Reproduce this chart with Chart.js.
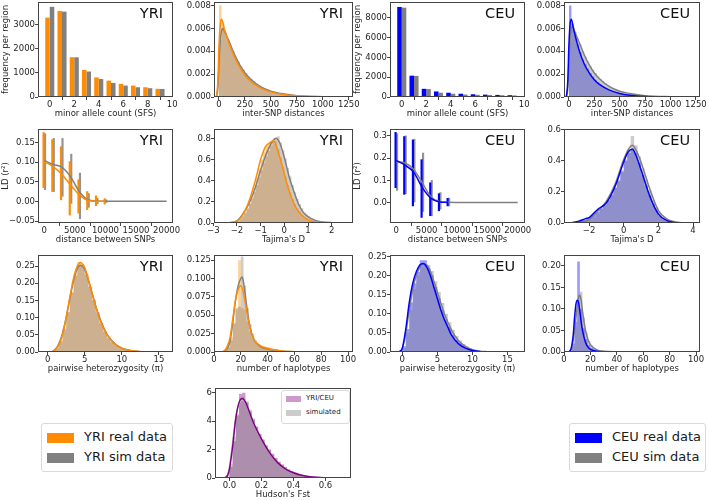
<!DOCTYPE html>
<html>
<head>
<meta charset="utf-8">
<script src="https://cdn.jsdelivr.net/npm/chart.js@4.4.1/dist/chart.umd.min.js"></script>
<style>
  body { margin: 0; background: #fff; }
  #fig { position: relative; width: 709px; height: 500px; overflow: hidden; font-family: 'DejaVu Sans', sans-serif; color: #1a1a1a; }
  #fig canvas { position: absolute; }
  .leg { position: absolute; background: #fff; border: 1px solid #d9d9d9; border-radius: 3px; }
  .leg span { position: absolute; white-space: nowrap; }
  .leg i { position: absolute; display: block; }
</style>
</head>
<body>
<div id="fig">
  <div class="leg" style="left:41px; top:423px; width:130px; height:47px; font-size:13px;">
    <i style="left:5px; top:9px; width:27px; height:10px; background:#ff8c00;"></i>
    <span style="left:42px; top:5px;">YRI real data</span>
    <i style="left:5px; top:29px; width:27px; height:10px; background:#808080;"></i>
    <span style="left:42px; top:25px;">YRI sim data</span>
  </div>
  <div class="leg" style="left:569px; top:423px; width:135px; height:47px; font-size:13px;">
    <i style="left:5px; top:9px; width:27px; height:10px; background:#0000ff;"></i>
    <span style="left:42px; top:5px;">CEU real data</span>
    <i style="left:5px; top:29px; width:27px; height:10px; background:#808080;"></i>
    <span style="left:42px; top:25px;">CEU sim data</span>
  </div>
  <div class="leg" style="left:281px; top:390px; width:67px; height:32px; font-size:7px; z-index:2;">
    <i style="left:4px; top:5px; width:15px; height:6px; background:rgba(128,0,128,0.4);"></i>
    <span style="left:24px; top:3px;">YRI/CEU</span>
    <i style="left:4px; top:19px; width:15px; height:6px; background:rgba(128,128,128,0.4);"></i>
    <span style="left:24px; top:17px;">simulated</span>
  </div>
</div>
<script>
// ---- site frequency spectrum (counts per region)
const sfsCount = [0, 1, 2, 3, 4, 5, 6, 7, 8, 9];
const yriSfsReal = [3300, 3580, 1655, 1125, 815, 680, 545, 475, 405, 340];
const yriSfsSim = [3750, 3550, 1650, 1060, 745, 585, 475, 405, 365, 335];
const ceuSfsReal = [9080, 2150, 825, 560, 430, 330, 275, 240, 210, 180];
const ceuSfsSim = [9010, 2130, 800, 430, 330, 250, 220, 200, 180, 160];

// ---- inter-SNP distances, histogram bins of 25 from 0
const gapStart = 0, gapWidth = 25;
const yriGapReal = [0.0080, 0.0066, 0.0057, 0.0050, 0.0044, 0.0038, 0.0033, 0.0029, 0.0025, 0.0022, 0.0019, 0.0016, 0.0014, 0.0012, 0.0010, 0.00088, 0.00076, 0.00065, 0.00055, 0.00047, 0.00040, 0.00034, 0.00029, 0.00024, 0.00020, 0.00017, 0.00014, 0.00012, 0.00010, 0.00008, 0.00007, 0.00006, 0.00005, 0.00004, 0.00003, 0.00003, 0.00002, 0.00002, 0.00002, 0.00001, 0.00001];
const yriGapSim = [0.0050, 0.0060, 0.0056, 0.0050, 0.0045, 0.0040, 0.0035, 0.0031, 0.0027, 0.0024, 0.0021, 0.0018, 0.0016, 0.0014, 0.0012, 0.0010, 0.00088, 0.00077, 0.00067, 0.00058, 0.00050, 0.00043, 0.00037, 0.00032, 0.00027, 0.00023, 0.00020, 0.00017, 0.00014, 0.00012, 0.00010, 0.00008, 0.00007, 0.00006, 0.00005, 0.00004, 0.00003, 0.00003, 0.00002, 0.00002, 0.00001];
const ceuGapReal = [0.0080, 0.0064, 0.0054, 0.0046, 0.0039, 0.0033, 0.0029, 0.0025, 0.0021, 0.0018, 0.0015, 0.0013, 0.0011, 0.00095, 0.0008, 0.00068, 0.00058, 0.0005, 0.00042, 0.00036, 0.0003, 0.00025, 0.00021, 0.00018, 0.00015, 0.00012, 0.0001, 0.00008, 0.00007, 0.00006, 0.00005, 0.00004, 0.00003, 0.00003, 0.00002, 0.00002, 0.00001, 0.00001, 0.00001, 0.00001, 0.00001];
const ceuGapSim = [0.0048, 0.0062, 0.0057, 0.0051, 0.0046, 0.0040, 0.0035, 0.0031, 0.0027, 0.0024, 0.0021, 0.0018, 0.0016, 0.0014, 0.0012, 0.0010, 0.00088, 0.00077, 0.00067, 0.00058, 0.0005, 0.00043, 0.00037, 0.00032, 0.00027, 0.00023, 0.0002, 0.00017, 0.00014, 0.00012, 0.0001, 0.00008, 0.00007, 0.00006, 0.00005, 0.00004, 0.00003, 0.00003, 0.00002, 0.00002, 0.00001];
const gapKdeX = [-25, -10, 0, 15, 25, 40, 50, 100, 150, 200, 250, 300, 400, 500, 600, 750, 1000, 1250];
const yriGapKdeReal = [0, 0.0015, 0.0045, 0.0065, 0.0068, 0.0064, 0.0060, 0.0046, 0.0035, 0.0026, 0.0019, 0.0014, 0.0008, 0.00045, 0.00025, 0.0001, 0.00002, 0];
const yriGapKdeSim = [0, 0.0008, 0.0030, 0.0052, 0.0058, 0.0060, 0.0058, 0.0048, 0.0037, 0.0028, 0.0021, 0.0016, 0.0009, 0.0005, 0.0003, 0.00012, 0.00003, 0];
const ceuGapKdeReal = [0, 0.0015, 0.0045, 0.0066, 0.0068, 0.0062, 0.0058, 0.0041, 0.0029, 0.0021, 0.0015, 0.0011, 0.0006, 0.0003, 0.00015, 0.00005, 0.00001, 0];
const ceuGapKdeSim = [0, 0.0008, 0.0030, 0.0054, 0.0060, 0.0062, 0.0059, 0.0048, 0.0037, 0.0028, 0.0021, 0.0016, 0.0009, 0.0005, 0.0003, 0.00012, 0.00003, 0];

// ---- LD decay (mean r^2 and spread per distance bin)
const ldDist = [0, 1429, 2857, 4286, 5714, 7143, 8571, 10000];
const ldDistSim = [0, 1429, 2857, 4286, 5714, 7143, 8571, 10000, 11429, 12857, 14286, 15714, 17143, 18571, 20000];
const yriLdReal = [0.101, 0.0885, 0.069, 0.042, 0.017, 0.002, 0.0005, 0.0002];
const yriLdSim = [0.104, 0.094, 0.087, 0.063, 0.025, 0.004, 0.001, 0.0003, 0.0002, 0.0001, 0.0001, 0, 0, 0, 0];
const yriLdRealLo = [0.035, 0.025, 0.004, -0.035, -0.030, -0.021, -0.011, -0.007];
const yriLdRealHi = [0.175, 0.157, 0.139, 0.101, 0.055, 0.025, 0.014, 0.007];
const yriLdSimLo = [0.030, 0.025, 0.013, -0.005, -0.044, -0.015, -0.006, -0.003];
const yriLdSimHi = [0.172, 0.160, 0.160, 0.120, 0.072, 0.020, 0.008, 0.004];
const ceuLdDist = [0, 1429, 2857, 4286, 5714, 7143, 8571];
const ceuLdReal = [0.19, 0.168, 0.137, 0.067, 0.019, 0.003, 0.0005];
const ceuLdSim = [0.183, 0.178, 0.149, 0.089, 0.025, 0.004, 0.001, 0.0003, 0, 0, 0, 0, 0, 0, 0];
const ceuLdRealLo = [0.067, 0.037, -0.015, -0.067, -0.059, -0.037, -0.015];
const ceuLdRealHi = [0.316, 0.297, 0.282, 0.193, 0.089, 0.040, 0.019];
const ceuLdSimLo = [0.055, 0.040, 0.000, -0.040, -0.060, -0.030, -0.015];
const ceuLdSimHi = [0.310, 0.300, 0.285, 0.223, 0.100, 0.045, 0.020];

// ---- Tajima's D
const yriTajStart = -2.2, yriTajWidth = 0.1;
const yriTajReal = [0.005, 0.01, 0.02, 0.035, 0.06, 0.09, 0.13, 0.19, 0.25, 0.33, 0.42, 0.51, 0.60, 0.67, 0.73, 0.75, 0.76, 0.78, 0.77, 0.70, 0.62, 0.53, 0.44, 0.36, 0.29, 0.23, 0.18, 0.14, 0.11, 0.08, 0.06, 0.045, 0.033, 0.024, 0.017, 0.012, 0.008, 0.005, 0.003, 0.002];
const yriTajSim = [0.005, 0.01, 0.02, 0.04, 0.07, 0.1, 0.14, 0.18, 0.23, 0.29, 0.36, 0.43, 0.5, 0.57, 0.63, 0.68, 0.73, 0.77, 0.8, 0.82, 0.76, 0.69, 0.61, 0.52, 0.44, 0.36, 0.29, 0.23, 0.18, 0.14, 0.1, 0.08, 0.06, 0.045, 0.034, 0.025, 0.018, 0.013, 0.009, 0.006, 0.004, 0.003, 0.002, 0.001];
const yriTajKdeRealX = [-2.3, -2.0, -1.8, -1.5, -1.25, -1.0, -0.8, -0.6, -0.45, -0.3, -0.1, 0.1, 0.3, 0.5, 0.75, 1.0, 1.3, 1.6, 2.0];
const yriTajKdeReal = [0, 0.02, 0.06, 0.2, 0.38, 0.6, 0.72, 0.76, 0.78, 0.7, 0.55, 0.38, 0.24, 0.14, 0.07, 0.03, 0.01, 0.003, 0];
const yriTajKdeSimX = [-2.4, -2.0, -1.8, -1.5, -1.25, -1.0, -0.75, -0.5, -0.35, -0.2, 0, 0.2, 0.4, 0.6, 0.8, 1.0, 1.3, 1.6, 2.0, 2.5];
const yriTajKdeSim = [0, 0.02, 0.07, 0.18, 0.32, 0.5, 0.66, 0.77, 0.8, 0.76, 0.62, 0.44, 0.3, 0.18, 0.1, 0.06, 0.025, 0.01, 0.003, 0];
const ceuTajStart = -3.0, ceuTajWidth = 0.2;
const ceuTajReal = [0.002, 0.006, 0.012, 0.02, 0.03, 0.038, 0.05, 0.07, 0.095, 0.115, 0.145, 0.18, 0.225, 0.27, 0.33, 0.4, 0.45, 0.48, 0.45, 0.39, 0.31, 0.24, 0.18, 0.12, 0.08, 0.045, 0.025, 0.013, 0.006, 0.003, 0.001];
const ceuTajSim = [0.001, 0.002, 0.004, 0.007, 0.012, 0.02, 0.035, 0.06, 0.09, 0.12, 0.15, 0.19, 0.23, 0.28, 0.34, 0.41, 0.47, 0.56, 0.5, 0.43, 0.35, 0.28, 0.21, 0.15, 0.1, 0.065, 0.04, 0.024, 0.013, 0.007, 0.003, 0.001];
const ceuTajKdeRealX = [-3.0, -2.6, -2.2, -2.0, -1.5, -1.0, -0.5, 0, 0.25, 0.5, 0.7, 1.0, 1.5, 2.0, 2.5, 3.0];
const ceuTajKdeReal = [0.002, 0.012, 0.028, 0.035, 0.088, 0.13, 0.236, 0.394, 0.457, 0.474, 0.436, 0.341, 0.173, 0.057, 0.015, 0.002];
const ceuTajKdeSimX = [-3.0, -2.5, -2.0, -1.5, -1.0, -0.5, 0, 0.3, 0.5, 0.7, 1.0, 1.5, 2.0, 2.5, 3.0, 3.5];
const ceuTajKdeSim = [0.001, 0.006, 0.02, 0.075, 0.14, 0.25, 0.41, 0.48, 0.5, 0.47, 0.39, 0.22, 0.08, 0.025, 0.006, 0.001];

// ---- pairwise heterozygosity (pi)
const yriPiStart = 0, yriPiWidth = 0.5;
const yriPiReal = [0, 0.002, 0.01, 0.03, 0.065, 0.115, 0.175, 0.228, 0.262, 0.255, 0.228, 0.19, 0.15, 0.113, 0.082, 0.058, 0.04, 0.028, 0.019, 0.013, 0.009, 0.006, 0.004, 0.002, 0.001, 0.001];
const yriPiSim = [0, 0.003, 0.012, 0.033, 0.068, 0.117, 0.172, 0.222, 0.252, 0.25, 0.225, 0.19, 0.152, 0.116, 0.085, 0.06, 0.042, 0.029, 0.02, 0.013, 0.008, 0.005, 0.003, 0.002, 0.001, 0.001];
const yriPiKdeX = [0.5, 1, 1.5, 2, 2.5, 3, 3.5, 4, 4.4, 5, 5.5, 6, 6.5, 7, 7.5, 8, 9, 10, 11, 12, 13];
const yriPiKdeReal = [0, 0.006, 0.02, 0.05, 0.1, 0.16, 0.215, 0.25, 0.26, 0.245, 0.21, 0.17, 0.13, 0.097, 0.07, 0.05, 0.024, 0.011, 0.005, 0.002, 0];
const yriPiKdeSim = [0, 0.007, 0.023, 0.054, 0.1, 0.156, 0.208, 0.242, 0.252, 0.24, 0.208, 0.17, 0.132, 0.1, 0.073, 0.052, 0.025, 0.011, 0.005, 0.002, 0];
const ceuPiStart = -0.5, ceuPiWidth = 0.5;
const ceuPiReal = [0.002, 0.015, 0.06, 0.13, 0.18, 0.21, 0.24, 0.24, 0.22, 0.2, 0.17, 0.14, 0.11, 0.085, 0.065, 0.045, 0.032, 0.022, 0.015, 0.01, 0.007, 0.004, 0.002, 0.001];
const ceuPiSim = [0.001, 0.01, 0.05, 0.11, 0.165, 0.2, 0.222, 0.232, 0.228, 0.212, 0.185, 0.157, 0.128, 0.1, 0.078, 0.058, 0.042, 0.03, 0.021, 0.014, 0.009, 0.006, 0.004, 0.002, 0.001, 0.001];
const ceuPiKdeX = [-0.5, 0, 0.5, 1, 1.5, 2, 2.5, 3, 3.5, 4, 4.5, 5, 5.5, 6, 6.5, 7, 8, 9, 10, 11, 12];
const ceuPiKdeReal = [0, 0.01, 0.06, 0.13, 0.18, 0.21, 0.228, 0.232, 0.222, 0.2, 0.17, 0.14, 0.11, 0.085, 0.065, 0.045, 0.022, 0.01, 0.004, 0.001, 0];
const ceuPiKdeSim = [0, 0.008, 0.05, 0.11, 0.165, 0.2, 0.222, 0.23, 0.228, 0.212, 0.185, 0.157, 0.128, 0.1, 0.078, 0.058, 0.03, 0.015, 0.006, 0.002, 0.001];

// ---- number of haplotypes
const yriHapStart = 6, yriHapWidth = 2;
const yriHapReal = [0.001, 0.003, 0.008, 0.02, 0.04, 0.058, 0.125, 0.06, 0.058, 0.042, 0.028, 0.019, 0.014, 0.011, 0.009, 0.008, 0.007, 0.006, 0.004, 0.003, 0.003, 0.002, 0.0015, 0.001, 0.0007, 0.0005];
const yriHapSim = [0.001, 0.002, 0.006, 0.016, 0.038, 0.06, 0.062, 0.13, 0.09, 0.06, 0.038, 0.025, 0.016, 0.011, 0.008, 0.006, 0.005, 0.004, 0.003, 0.002, 0.0015, 0.001, 0.0008, 0.0006, 0.0004, 0.0003];
const yriHapKdeRealX = [6, 8, 10, 12, 14, 16, 18, 20, 22, 24, 26, 28, 30, 35, 40, 45, 50, 60, 80];
const yriHapKdeReal = [0, 0.002, 0.008, 0.02, 0.045, 0.07, 0.085, 0.09, 0.08, 0.06, 0.04, 0.025, 0.016, 0.008, 0.005, 0.003, 0.0015, 0.0005, 0];
const yriHapKdeSimX = [6, 10, 12, 14, 16, 18, 20, 21, 22, 24, 26, 28, 30, 35, 40, 50, 60, 80, 90];
const yriHapKdeSim = [0, 0.005, 0.015, 0.04, 0.07, 0.09, 0.1, 0.102, 0.095, 0.068, 0.042, 0.026, 0.016, 0.007, 0.004, 0.0015, 0.0005, 0.0001, 0];
const ceuHapStart = 2, ceuHapWidth = 2;
const ceuHapReal = [0, 0.003, 0.02, 0.07, 0.21, 0.1, 0.055, 0.03, 0.016, 0.009, 0.006, 0.004, 0.003, 0.002, 0.0015, 0.001, 0.0007, 0.0005];
const ceuHapSim = [0, 0.002, 0.012, 0.06, 0.105, 0.14, 0.08, 0.045, 0.025, 0.015, 0.009, 0.006, 0.004, 0.003, 0.002, 0.0015, 0.001, 0.0008, 0.0005, 0.0003];
const ceuHapKdeRealX = [3, 5, 7, 8, 9, 10, 11, 12, 13, 14, 16, 18, 20, 25, 30, 40];
const ceuHapKdeReal = [0, 0.005, 0.04, 0.08, 0.11, 0.12, 0.115, 0.095, 0.07, 0.05, 0.025, 0.012, 0.006, 0.002, 0.0005, 0];
const ceuHapKdeSimX = [4, 6, 8, 10, 11, 12, 13, 14, 16, 18, 20, 25, 30, 40, 50, 75];
const ceuHapKdeSim = [0, 0.01, 0.05, 0.105, 0.125, 0.132, 0.12, 0.095, 0.055, 0.03, 0.017, 0.005, 0.002, 0.0005, 0.0002, 0];

// ---- Hudson's Fst, YRI vs CEU
const fstStart = -0.02, fstWidth = 0.02;
const fstReal = [0.05, 0.8, 2.6, 4.4, 5.9, 6.0, 5.3, 4.7, 4.1, 3.6, 3.1, 2.7, 2.3, 2.0, 1.7, 1.4, 1.15, 0.95, 0.75, 0.6, 0.48, 0.38, 0.29, 0.22, 0.16, 0.12, 0.09, 0.06, 0.045, 0.03, 0.02, 0.015, 0.01, 0.007, 0.005, 0.003];
const fstSim = [0.1, 1.0, 2.9, 4.5, 5.6, 5.7, 5.4, 4.8, 4.2, 3.6, 3.1, 2.65, 2.25, 1.95, 1.65, 1.38, 1.15, 0.95, 0.78, 0.62, 0.5, 0.39, 0.3, 0.23, 0.17, 0.13, 0.09, 0.07, 0.05, 0.035, 0.025, 0.017, 0.011, 0.007, 0.004, 0.002];
const fstKdeX = [-0.03, -0.01, 0, 0.02, 0.04, 0.06, 0.08, 0.1, 0.12, 0.15, 0.2, 0.25, 0.3, 0.35, 0.4, 0.45, 0.5, 0.6, 0.7];
const fstKdeReal = [0, 0.2, 0.6, 2.2, 4.2, 5.3, 5.6, 5.35, 4.8, 3.9, 2.75, 1.8, 1.1, 0.65, 0.37, 0.19, 0.09, 0.02, 0];
const fstKdeSim = [0, 0.3, 0.8, 2.5, 4.3, 5.2, 5.5, 5.3, 4.8, 3.9, 2.75, 1.82, 1.12, 0.67, 0.38, 0.2, 0.1, 0.02, 0];

// ---- tick positions
const sfsXTicks = [0, 2, 4, 6, 8, 10];
const yriSfsYTicks = [0, 1000, 2000, 3000];
const ceuSfsYTicks = [0, 2000, 4000, 6000, 8000];
const gapXTicks = [0, 250, 500, 750, 1000, 1250];
const gapYTicks = [0, 0.002, 0.004, 0.006, 0.008];
const ldXTicks = [0, 5000, 10000, 15000, 20000];
const yriLdYTicks = [-0.05, 0, 0.05, 0.1, 0.15];
const ceuLdYTicks = [0, 0.1, 0.2, 0.3];
const yriTajXTicks = [-3, -2, -1, 0, 1, 2];
const yriTajYTicks = [0, 0.2, 0.4, 0.6, 0.8];
const ceuTajXTicks = [-2, 0, 2, 4];
const ceuTajYTicks = [0, 0.2, 0.4, 0.6];
const piXTicks = [0, 5, 10, 15];
const piYTicks = [0, 0.05, 0.1, 0.15, 0.2, 0.25];
const hapXTicks = [0, 20, 40, 60, 80, 100];
const yriHapYTicks = [0, 0.025, 0.05, 0.075, 0.1, 0.125];
const ceuHapYTicks = [0, 0.05, 0.1, 0.15, 0.2];
const fstXTicks = [0, 0.2, 0.4, 0.6];
const fstYTicks = [0, 2, 4, 6];

const ORANGE = '#ff8c00', GREY = '#808080', BLUE = '#0000ff', PURPLE = '#800080';
const ORANGE_A = 'rgba(255,140,0,0.4)', GREY_A = 'rgba(128,128,128,0.4)', BLUE_A = 'rgba(0,0,255,0.4)', PURPLE_A = 'rgba(128,0,128,0.4)';
const FAM = "'DejaVu Sans', sans-serif";
const FONT = {family: FAM, size: 8.5};
const INK = '#262626', SPINE = '#444';
const YW = 38, PT = 6, PR = 14, XH = 22;
const fig = document.getElementById('fig');

function fmt(v, d) { return v.toFixed(d).replace('-', '\u2212'); }
function pts(xs, ys) { return xs.map((x, i) => ({x: x, y: ys[i]})); }
function hist(start, width, vals) {
  const p = vals.map((v, i) => ({x: start + i * width, y: v}));
  p.push({x: start + vals.length * width, y: 0});
  return p;
}
function spread(xs, lo, hi) { return xs.map((x, i) => ({x: x, y: [lo[i], hi[i]]})); }

function kde(data, color) {
  return {data: data, borderColor: color, borderWidth: 1.5, pointRadius: 0, fill: false, cubicInterpolationMode: 'monotone', order: 0};
}
function histSet(data, color, order) {
  return {data: data, stepped: true, fill: 'origin', backgroundColor: color, borderColor: 'rgba(0,0,0,0)', borderWidth: 0, pointRadius: 0, order: order};
}
function errSet(data, color) {
  return {type: 'bar', data: data, backgroundColor: color, barThickness: 1.5, order: 1};
}
function sfsSet(data, color) {
  return {type: 'bar', data: data, backgroundColor: color, categoryPercentage: 0.74, barPercentage: 1};
}

const frame = {
  id: 'frame',
  afterDraw(chart, args, opts) {
    const a = chart.chartArea, ctx = chart.ctx;
    ctx.save();
    ctx.strokeStyle = SPINE;
    ctx.lineWidth = 1;
    ctx.strokeRect(Math.round(a.left) + 0.5, Math.round(a.top) + 0.5, Math.round(a.right - a.left) - 1, Math.round(a.bottom - a.top) - 1);
    if (opts.tag) {
      ctx.fillStyle = '#111';
      ctx.font = "14.5px " + FAM;
      ctx.textAlign = 'right';
      ctx.textBaseline = 'alphabetic';
      ctx.fillText(opts.tag, a.right - 10, a.top + 16);
    }
    ctx.restore();
  }
};

function axis(ax, isX) {
  return {
    type: 'linear', min: ax.min, max: ax.max, offset: false,
    afterBuildTicks: s => { s.ticks = ax.ticks.map(v => ({value: v})); },
    afterFit: s => {
      if (isX) { s.height = XH; s.paddingLeft = 0; s.paddingRight = 0; }
      else { s.width = YW; s.paddingTop = 0; s.paddingBottom = 0; }
    },
    grid: {drawOnChartArea: false, drawTicks: true, tickLength: 3, color: SPINE},
    border: {display: false},
    ticks: {font: FONT, color: INK, padding: 0, maxRotation: 0, autoSkip: false, callback: v => fmt(v, ax.dec)},
    title: {display: !!ax.title, text: ax.title || '', font: FONT, color: INK, padding: {top: 1, bottom: 0}}
  };
}

function panel(box, tag, xa, ya, datasets) {
  const [l, t, r, b] = box;
  const cv = document.createElement('canvas');
  cv.width = r - l + YW + PR;
  cv.height = b - t + PT + XH;
  cv.style.left = (l - YW) + 'px';
  cv.style.top = (t - PT) + 'px';
  fig.appendChild(cv);
  new Chart(cv, {
    type: 'line',
    data: {datasets: datasets},
    options: {
      responsive: false, animation: false, devicePixelRatio: 1,
      layout: {padding: {left: 0, top: PT, right: PR, bottom: 0}},
      plugins: {legend: {display: false}, tooltip: {enabled: false}, frame: {tag: tag}},
      scales: {x: axis(xa, true), y: axis(ya, false)}
    },
    plugins: [frame]
  });
}

// row 1
panel([38, 2, 173, 97], 'YRI',
  {min: -0.96, max: 10.06, ticks: sfsXTicks, dec: 0, title: 'minor allele count (SFS)'},
  {min: 0, max: 3950, ticks: yriSfsYTicks, dec: 0, title: 'frequency per region'},
  [sfsSet(pts(sfsCount, yriSfsReal), ORANGE), sfsSet(pts(sfsCount, yriSfsSim), GREY)]);
panel([214, 2, 353, 97], 'YRI',
  {min: -48, max: 1290, ticks: gapXTicks, dec: 0, title: 'inter-SNP distances'},
  {min: 0, max: 0.0083, ticks: gapYTicks, dec: 3},
  [kde(pts(gapKdeX, yriGapKdeReal), ORANGE), kde(pts(gapKdeX, yriGapKdeSim), GREY),
   histSet(hist(gapStart, gapWidth, yriGapSim), GREY_A, 2), histSet(hist(gapStart, gapWidth, yriGapReal), ORANGE_A, 3)]);
panel([390, 2, 525, 97], 'CEU',
  {min: -0.96, max: 10.06, ticks: sfsXTicks, dec: 0, title: 'minor allele count (SFS)'},
  {min: 0, max: 9580, ticks: ceuSfsYTicks, dec: 0, title: 'frequency per region'},
  [sfsSet(pts(sfsCount, ceuSfsReal), BLUE), sfsSet(pts(sfsCount, ceuSfsSim), GREY)]);
panel([564, 2, 700, 97], 'CEU',
  {min: -48, max: 1290, ticks: gapXTicks, dec: 0, title: 'inter-SNP distances'},
  {min: 0, max: 0.0083, ticks: gapYTicks, dec: 3},
  [kde(pts(gapKdeX, ceuGapKdeReal), BLUE), kde(pts(gapKdeX, ceuGapKdeSim), GREY),
   histSet(hist(gapStart, gapWidth, ceuGapSim), GREY_A, 2), histSet(hist(gapStart, gapWidth, ceuGapReal), BLUE_A, 3)]);

// row 2
panel([38, 129, 173, 223], 'YRI',
  {min: -1030, max: 21050, ticks: ldXTicks, dec: 0, title: 'distance between SNPs'},
  {min: -0.055, max: 0.184, ticks: yriLdYTicks, dec: 2, title: 'LD (r\u00b2)'},
  [kde(pts(ldDist, yriLdReal), ORANGE), kde(pts(ldDistSim, yriLdSim), GREY),
   errSet(spread(ldDist, yriLdRealLo, yriLdRealHi), ORANGE), errSet(spread(ldDist, yriLdSimLo, yriLdSimHi), 'rgba(128,128,128,0.85)')]);
panel([214, 129, 353, 223], 'YRI',
  {min: -2.97, max: 2.9, ticks: yriTajXTicks, dec: 0, title: "Tajima's D"},
  {min: 0, max: 0.888, ticks: yriTajYTicks, dec: 1},
  [kde(pts(yriTajKdeRealX, yriTajKdeReal), ORANGE), kde(pts(yriTajKdeSimX, yriTajKdeSim), GREY),
   histSet(hist(yriTajStart, yriTajWidth, yriTajSim), GREY_A, 2), histSet(hist(yriTajStart, yriTajWidth, yriTajReal), ORANGE_A, 3)]);
panel([390, 129, 525, 223], 'CEU',
  {min: -1040, max: 21200, ticks: ldXTicks, dec: 0, title: 'distance between SNPs'},
  {min: -0.092, max: 0.331, ticks: ceuLdYTicks, dec: 1, title: 'LD (r\u00b2)'},
  [kde(pts(ceuLdDist, ceuLdReal), BLUE), kde(pts(ldDistSim, ceuLdSim), GREY),
   errSet(spread(ceuLdDist, ceuLdRealLo, ceuLdRealHi), BLUE), errSet(spread(ceuLdDist, ceuLdSimLo, ceuLdSimHi), 'rgba(128,128,128,0.85)')]);
panel([564, 129, 700, 223], 'CEU',
  {min: -3.45, max: 4.4, ticks: ceuTajXTicks, dec: 0, title: "Tajima's D"},
  {min: 0, max: 0.605, ticks: ceuTajYTicks, dec: 1},
  [kde(pts(ceuTajKdeRealX, ceuTajKdeReal), BLUE), kde(pts(ceuTajKdeSimX, ceuTajKdeSim), GREY),
   histSet(hist(ceuTajStart, ceuTajWidth, ceuTajSim), GREY_A, 2), histSet(hist(ceuTajStart, ceuTajWidth, ceuTajReal), BLUE_A, 3)]);

// row 3
panel([38, 255, 173, 352], 'YRI',
  {min: -1.3, max: 16.9, ticks: piXTicks, dec: 0, title: 'pairwise heterozygosity (\u03c0)'},
  {min: 0, max: 0.282, ticks: piYTicks, dec: 2},
  [kde(pts(yriPiKdeX, yriPiKdeReal), ORANGE), kde(pts(yriPiKdeX, yriPiKdeSim), GREY),
   histSet(hist(yriPiStart, yriPiWidth, yriPiSim), GREY_A, 2), histSet(hist(yriPiStart, yriPiWidth, yriPiReal), ORANGE_A, 3)]);
panel([214, 255, 353, 352], 'YRI',
  {min: 0, max: 103.7, ticks: hapXTicks, dec: 0, title: 'number of haplotypes'},
  {min: 0, max: 0.132, ticks: yriHapYTicks, dec: 3},
  [kde(pts(yriHapKdeRealX, yriHapKdeReal), ORANGE), kde(pts(yriHapKdeSimX, yriHapKdeSim), GREY),
   histSet(hist(yriHapStart, yriHapWidth, yriHapSim), GREY_A, 2), histSet(hist(yriHapStart, yriHapWidth, yriHapReal), ORANGE_A, 3)]);
panel([390, 255, 525, 352], 'CEU',
  {min: -1.75, max: 17.5, ticks: piXTicks, dec: 0, title: 'pairwise heterozygosity (\u03c0)'},
  {min: 0, max: 0.254, ticks: piYTicks, dec: 2},
  [kde(pts(ceuPiKdeX, ceuPiKdeReal), BLUE), kde(pts(ceuPiKdeX, ceuPiKdeSim), GREY),
   histSet(hist(ceuPiStart, ceuPiWidth, ceuPiSim), GREY_A, 2), histSet(hist(ceuPiStart, ceuPiWidth, ceuPiReal), BLUE_A, 3)]);
panel([564, 255, 700, 352], 'CEU',
  {min: 0, max: 103, ticks: hapXTicks, dec: 0, title: 'number of haplotypes'},
  {min: 0, max: 0.225, ticks: ceuHapYTicks, dec: 2},
  [kde(pts(ceuHapKdeRealX, ceuHapKdeReal), BLUE), kde(pts(ceuHapKdeSimX, ceuHapKdeSim), GREY),
   histSet(hist(ceuHapStart, ceuHapWidth, ceuHapSim), GREY_A, 2), histSet(hist(ceuHapStart, ceuHapWidth, ceuHapReal), BLUE_A, 3)]);

// row 4
panel([215, 388, 351, 478], null,
  {min: -0.09, max: 0.76, ticks: fstXTicks, dec: 1, title: "Hudson's Fst"},
  {min: 0, max: 6.33, ticks: fstYTicks, dec: 0},
  [kde(pts(fstKdeX, fstKdeReal), PURPLE), kde(pts(fstKdeX, fstKdeSim), '#c8c8c8'),
   histSet(hist(fstStart, fstWidth, fstSim), GREY_A, 2), histSet(hist(fstStart, fstWidth, fstReal), PURPLE_A, 3)]);
</script>
</body>
</html>
